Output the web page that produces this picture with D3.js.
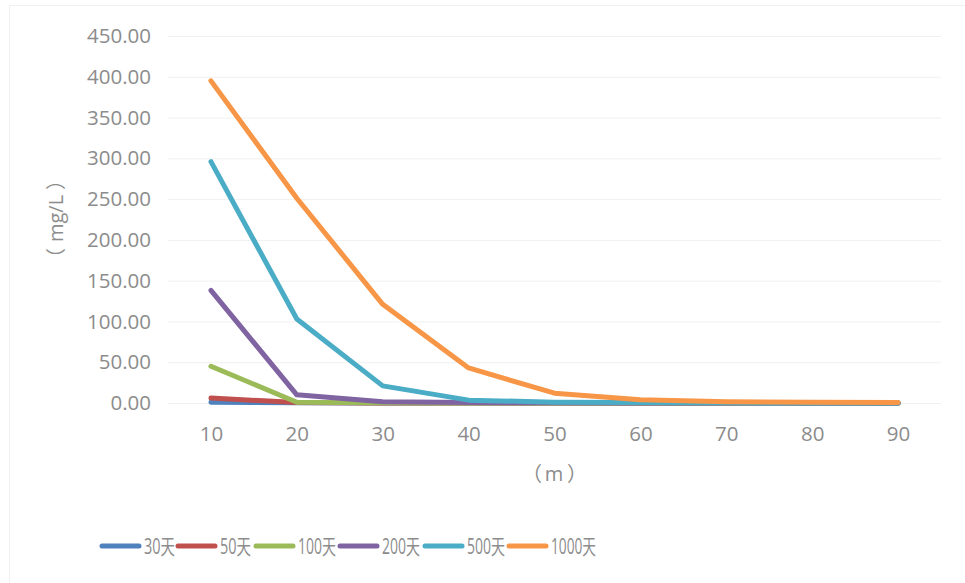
<!DOCTYPE html>
<html><head><meta charset="utf-8">
<script src="https://cdn.jsdelivr.net/npm/d3@7"></script>
<style>body{margin:0;background:#fff;} svg{display:block;}</style>
</head><body>
<svg id="c" width="965" height="583"></svg>
<script>
const categories = [10,20,30,40,50,60,70,80,90];
const seriesNames = ["30天","50天","100天","200天","500天","1000天"];
const s30 = [1,0.2,0,0,0,0,0,0,0];
const s50 = [6,0.5,0.1,0,0,0,0,0,0];
const s100 = [45,1,0.2,0,0,0,0,0,0];
const s200 = [138,10,1.5,0.5,0.2,0,0,0,0];
const s500 = [296,103,21,3.5,1,0.5,0.2,0,0];
const s1000 = [395,251,121,43,12,4,1.5,1,0.5];
const yTicks = [0,50,100,150,200,250,300,350,400,450];
const colors = ["#4F81BD","#C0504D","#9BBB59","#8064A2","#4BACC6","#F79646"];
const allSeries = [s30,s50,s100,s200,s500,s1000];
const yTitle = ["（","mg/L","）"];
const xTitle = ["（","m","）"];

(function(){
const svg = d3.select("#c");
const font = "'Open Sans', 'Noto Sans CJK SC', sans-serif";
const txt = "#8c8c8c";

svg.append("rect").attr("x",9.5).attr("y",5.5).attr("width",970).attr("height",600)
  .attr("fill","none").attr("stroke","#f0f0f0");

const pLeft=168, pRight=941, pTop=36, pBottom=403;
const x = d3.scalePoint().domain(categories).range([pLeft,pRight]).padding(0.5);
const y = d3.scaleLinear().domain([0,450]).range([pBottom,pTop]);

const g = svg.append("g");
g.selectAll("line.grid").data(yTicks).join("line")
  .attr("x1",pLeft).attr("x2",pRight)
  .attr("y1",d=>y(d)+0.5).attr("y2",d=>y(d)+0.5)
  .attr("stroke","#f0f0f0").attr("stroke-width",1);

const yAxis = d3.axisLeft(y).tickValues(yTicks).tickFormat(d3.format(".2f")).tickSize(0).tickPadding(0);
const ya = svg.append("g").attr("transform",`translate(151,0)`).call(yAxis);
ya.select(".domain").remove();
ya.selectAll("text").attr("fill",txt).style("font-family",font).style("font-size","20.5px");

const xAxis = d3.axisBottom(x).tickSize(0).tickPadding(0);
const xa = svg.append("g").attr("transform",`translate(0,${pBottom+23})`).call(xAxis);
xa.select(".domain").remove();
xa.selectAll("text").attr("fill",txt).style("font-family",font).style("font-size","20.5px");

const yt = svg.append("text").attr("transform","translate(63,0) rotate(-90)")
  .attr("text-anchor","middle").attr("fill",txt).style("font-family",font).style("font-size","20px");
const yPos = [-258,-218.5,-180];
yTitle.forEach((t,i)=>yt.append("tspan").attr("x",yPos[i]).attr("y",0).text(t));

const xt = svg.append("text").attr("text-anchor","middle").attr("fill",txt)
  .style("font-family",font).style("font-size","20px");
const xPos = [532,554,577];
xTitle.forEach((t,i)=>xt.append("tspan").attr("x",xPos[i]).attr("y",481).text(t));

const line = d3.line().x((d,i)=>x(categories[i])).y(d=>y(d));
svg.append("g").selectAll("path").data(allSeries).join("path")
  .attr("d",d=>line(d)).attr("fill","none")
  .attr("stroke",(d,i)=>colors[i]).attr("stroke-width",5)
  .attr("stroke-linejoin","round").attr("stroke-linecap","round");

const legX = [102,178,256,340,425,509];
const legW = [31,31,38,38,38,45];
const lg = svg.append("g");
seriesNames.forEach((n,i)=>{
  lg.append("line").attr("x1",legX[i]).attr("x2",legX[i]+37).attr("y1",546).attr("y2",546)
    .attr("stroke",colors[i]).attr("stroke-width",5).attr("stroke-linecap","round");
  lg.append("text").attr("x",legX[i]+42).attr("y",554).attr("fill",txt)
    .style("font-family",font).style("font-size","21px")
    .attr("textLength",legW[i]).attr("lengthAdjust","spacingAndGlyphs").text(n);
});
})();
</script>
</body></html>
